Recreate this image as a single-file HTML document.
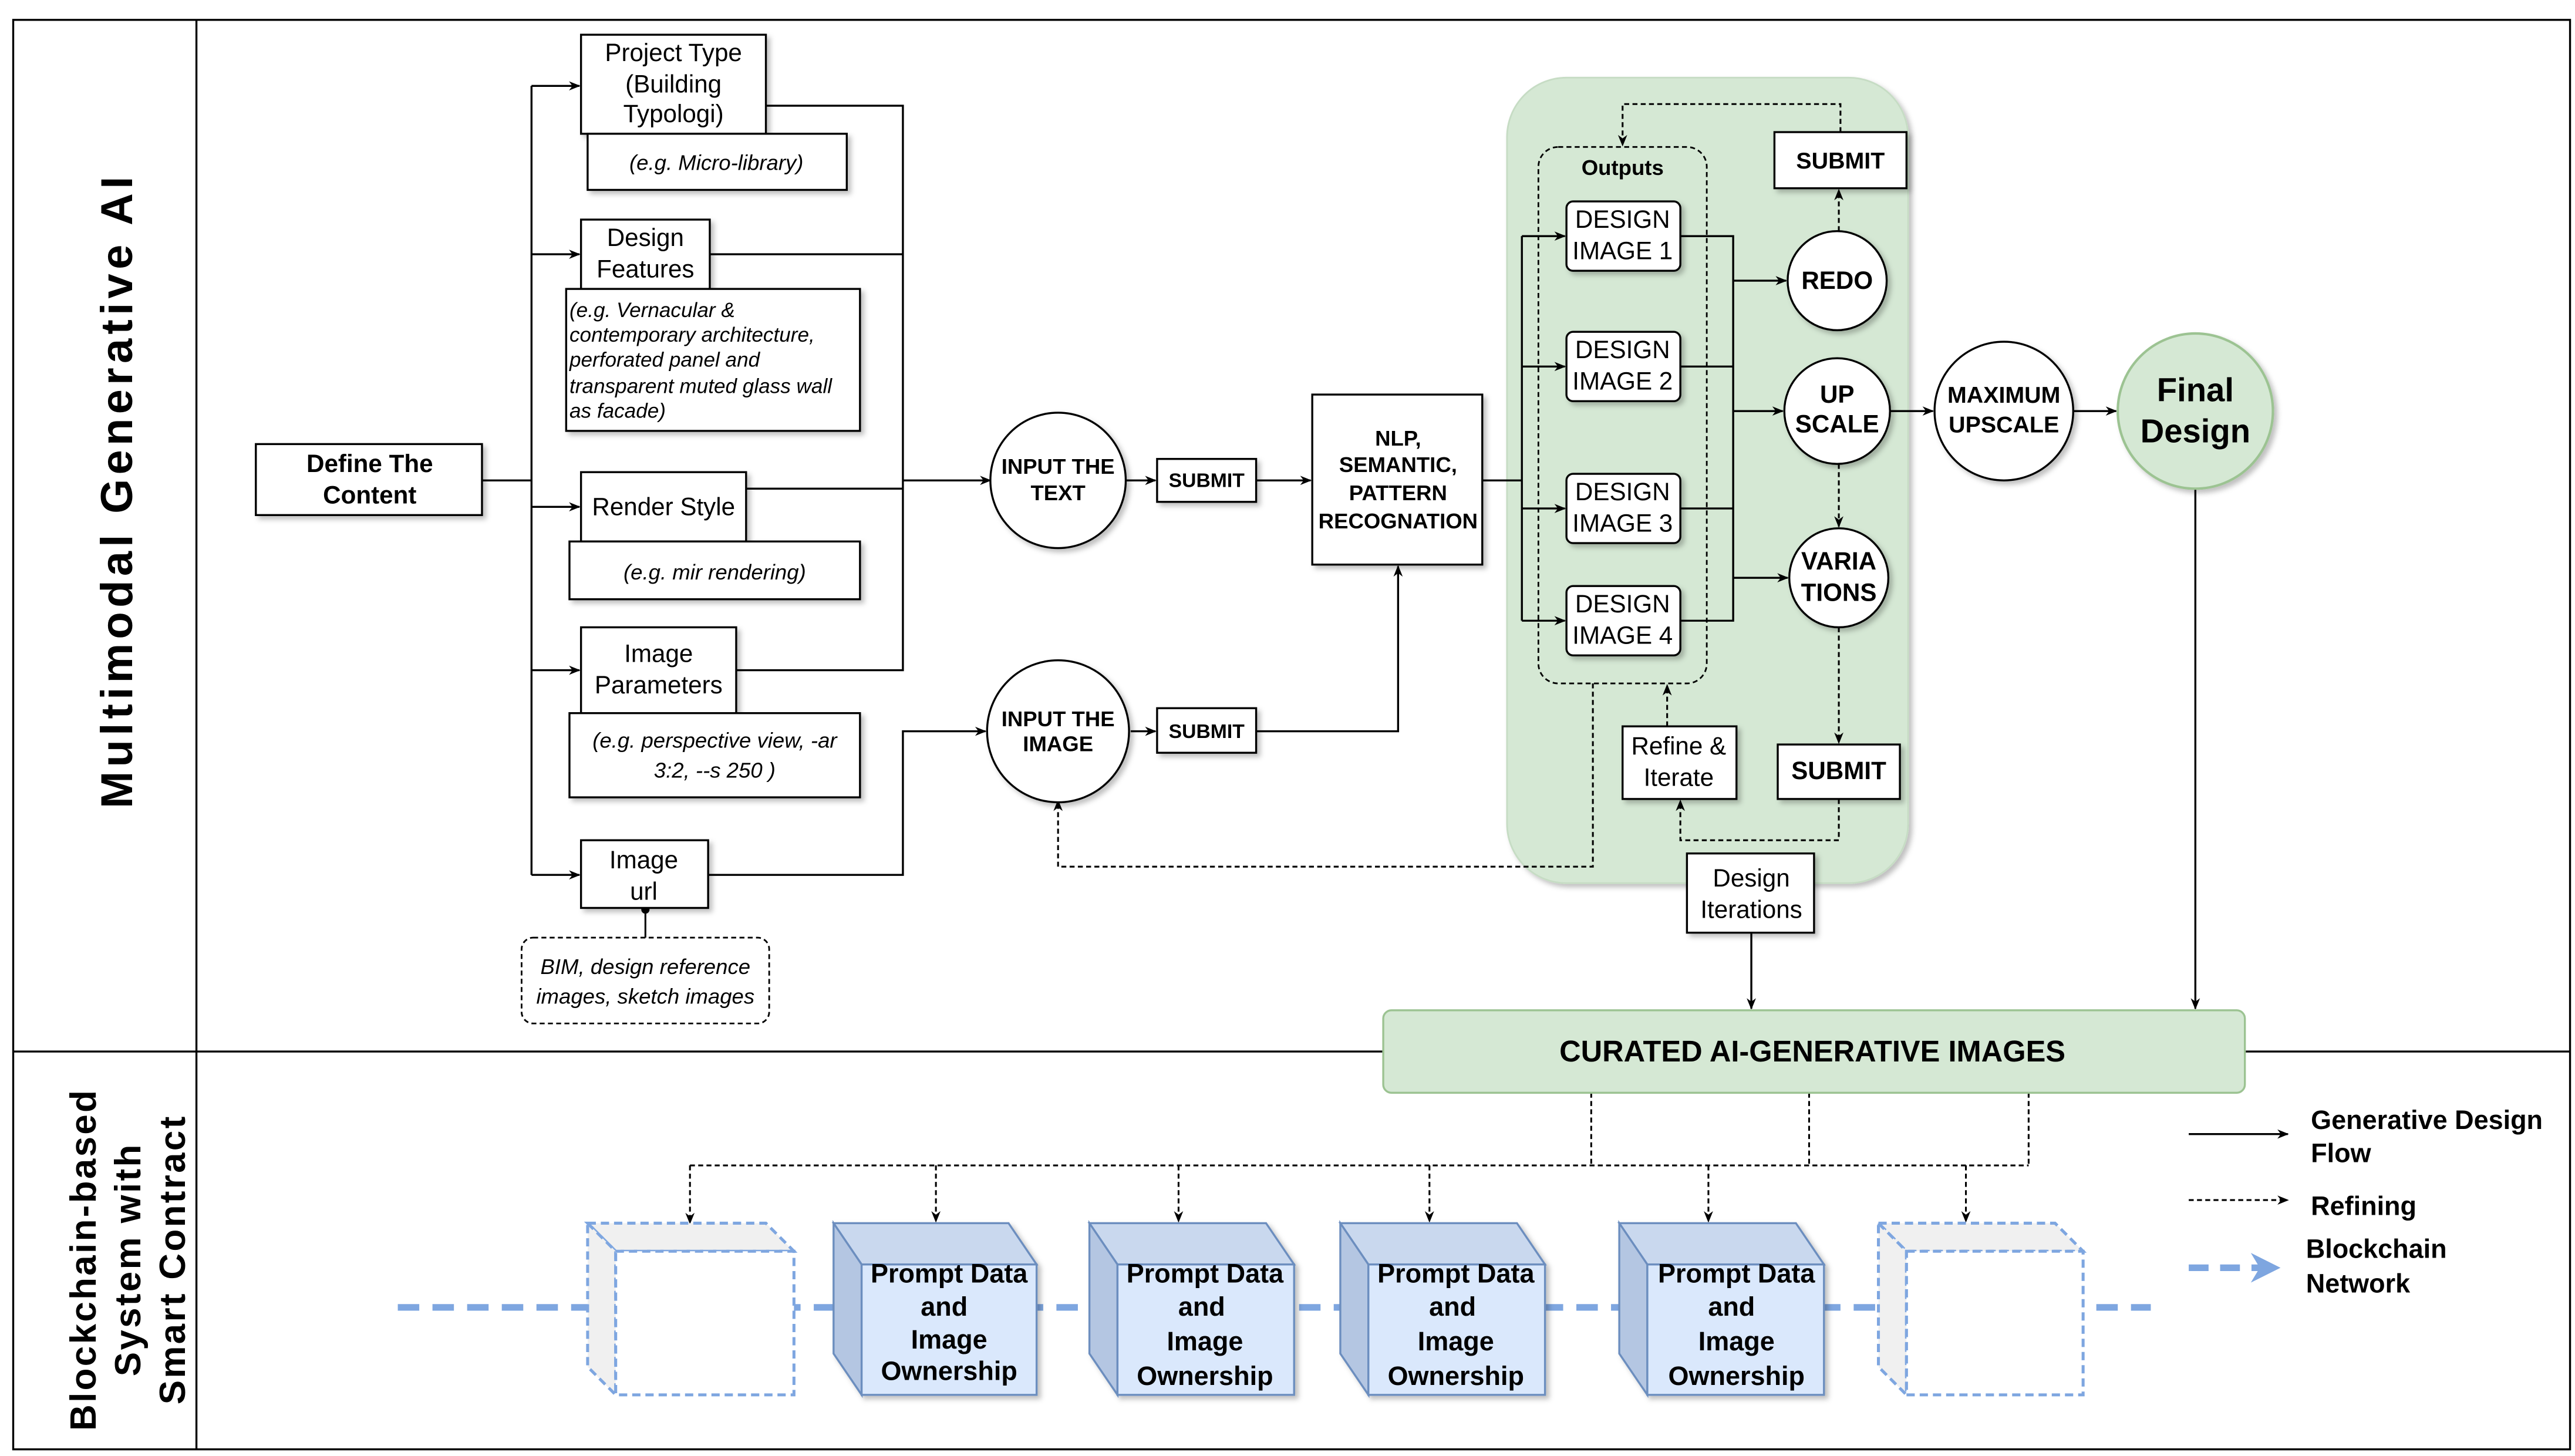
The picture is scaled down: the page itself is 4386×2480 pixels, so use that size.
<!DOCTYPE html>
<html><head><meta charset="utf-8"><style>
html,body{margin:0;padding:0;background:#fff}
svg{display:block}
text{font-family:"Liberation Sans",Arial,sans-serif;fill:#000}
.b{font-weight:bold}
.i{font-style:italic}
</style></head><body>
<svg width="4386" height="2480" viewBox="0 0 1560 882" xmlns="http://www.w3.org/2000/svg">
<defs>
<marker id="a" viewBox="0 0 10 10" refX="9" refY="5" markerWidth="7" markerHeight="7" orient="auto-start-reverse" markerUnits="userSpaceOnUse"><path d="M0,1 L10,5 L0,9 L3,5 z" fill="#000"/></marker>
<marker id="ab" viewBox="0 0 10 10" refX="8" refY="5" markerWidth="18" markerHeight="18" orient="auto" markerUnits="userSpaceOnUse"><path d="M0,0 L10,5 L0,10 L3,5 z" fill="#7ea6e0"/></marker>
<filter id="sh" x="-10%" y="-10%" width="130%" height="130%"><feDropShadow dx="2" dy="2" stdDeviation="1.5" flood-color="#000" flood-opacity="0.25"/></filter>
</defs>
<rect width="1560" height="882" fill="#fff"/>
<rect x="8" y="12" width="1549" height="866" fill="none" stroke="#000" stroke-width="1.2"/>
<line x1="119" y1="12" x2="119" y2="878" stroke="#000" stroke-width="1.2"/>
<line x1="8" y1="637" x2="1557" y2="637" stroke="#000" stroke-width="1.2"/>
<text class="b" font-size="27" transform="translate(80,297) rotate(-90)" text-anchor="middle" letter-spacing="2.6">Multimodal Generative AI</text>
<g transform="translate(58,763) rotate(-90)" text-anchor="middle" class="b" font-size="22" letter-spacing="1.2">
<text x="0" y="0" class="b">Blockchain-based</text>
<text x="0" y="27" class="b">System with</text>
<text x="0" y="54" class="b">Smart Contract</text>
</g>

<rect x="913" y="47" width="243" height="488" rx="36" fill="#d5e8d4" stroke="#c6dcc4" filter="url(#sh)"/>

<g stroke="#000" stroke-width="1.2" fill="none">
<line x1="292" y1="291" x2="322" y2="291"/>
<line x1="322" y1="52" x2="322" y2="530"/>
<line x1="322" y1="52" x2="351" y2="52" marker-end="url(#a)"/>
<line x1="322" y1="154" x2="351" y2="154" marker-end="url(#a)"/>
<line x1="322" y1="307" x2="351" y2="307" marker-end="url(#a)"/>
<line x1="322" y1="406" x2="351" y2="406" marker-end="url(#a)"/>
<line x1="322" y1="530" x2="351" y2="530" marker-end="url(#a)"/>
<polyline points="464,64 547,64 547,406 446,406"/>
<line x1="430" y1="154" x2="547" y2="154"/>
<line x1="452" y1="296" x2="547" y2="296"/>
<line x1="547" y1="291" x2="600" y2="291" marker-end="url(#a)"/>
<polyline points="429,530 547,530 547,443 597,443" marker-end="url(#a)"/>
<line x1="682" y1="291" x2="700" y2="291" marker-end="url(#a)"/>
<line x1="685" y1="443" x2="700" y2="443" marker-end="url(#a)"/>
<line x1="761" y1="291" x2="794" y2="291" marker-end="url(#a)"/>
<polyline points="761,443 847,443 847,343" marker-end="url(#a)"/>
<line x1="898" y1="291" x2="922" y2="291"/>
<line x1="922" y1="143" x2="922" y2="376"/>
<line x1="922" y1="143" x2="948" y2="143" marker-end="url(#a)"/>
<line x1="922" y1="222" x2="948" y2="222" marker-end="url(#a)"/>
<line x1="922" y1="308" x2="948" y2="308" marker-end="url(#a)"/>
<line x1="922" y1="376" x2="948" y2="376" marker-end="url(#a)"/>
<polyline points="1018,143 1050,143 1050,376 1018,376"/>
<line x1="1018" y1="222" x2="1050" y2="222"/>
<line x1="1018" y1="308" x2="1050" y2="308"/>
<line x1="1050" y1="170" x2="1082" y2="170" marker-end="url(#a)"/>
<line x1="1050" y1="249" x2="1080" y2="249" marker-end="url(#a)"/>
<line x1="1050" y1="350" x2="1083" y2="350" marker-end="url(#a)"/>
<line x1="1145" y1="249" x2="1171" y2="249" marker-end="url(#a)"/>
<line x1="1256" y1="249" x2="1282" y2="249" marker-end="url(#a)"/>
<line x1="1330" y1="296" x2="1330" y2="611" marker-end="url(#a)"/>
<line x1="1061" y1="565" x2="1061" y2="611" marker-end="url(#a)"/>
<line x1="1326" y1="687" x2="1386" y2="687" marker-end="url(#a)"/>
</g>

<g stroke="#000" stroke-width="1.1" fill="none" stroke-dasharray="3,2">
<line x1="1114" y1="140" x2="1114" y2="115" marker-end="url(#a)"/>
<polyline points="1115,80 1115,63 983,63 983,88" marker-end="url(#a)"/>
<line x1="1114" y1="281" x2="1114" y2="319" marker-end="url(#a)"/>
<line x1="1114" y1="380" x2="1114" y2="450" marker-end="url(#a)"/>
<polyline points="1114,484 1114,509 1018,509 1018,485" marker-end="url(#a)"/>
<line x1="1010" y1="440" x2="1010" y2="415" marker-end="url(#a)"/>
<polyline points="965,414 965,525 641,525 641,485" marker-end="url(#a)"/>
<line x1="391" y1="551" x2="391" y2="568" stroke-dasharray="none"/>
<line x1="964" y1="662" x2="964" y2="706"/>
<line x1="1096" y1="662" x2="1096" y2="706"/>
<line x1="1229" y1="662" x2="1229" y2="706"/>
<line x1="418" y1="706" x2="1229" y2="706"/>
<line x1="418" y1="706" x2="418" y2="741" marker-end="url(#a)"/>
<line x1="567" y1="706" x2="567" y2="740" marker-end="url(#a)"/>
<line x1="714" y1="706" x2="714" y2="740" marker-end="url(#a)"/>
<line x1="866" y1="706" x2="866" y2="740" marker-end="url(#a)"/>
<line x1="1035" y1="706" x2="1035" y2="740" marker-end="url(#a)"/>
<line x1="1191" y1="706" x2="1191" y2="740" marker-end="url(#a)"/>
<line x1="1326" y1="727" x2="1386" y2="727" marker-end="url(#a)"/>
</g>
<circle cx="391" cy="551" r="2.5" fill="#000"/>

<rect x="932" y="89" width="102" height="325" rx="12" fill="none" stroke="#000" stroke-width="1" stroke-dasharray="3,2"/>
<text x="983" y="106" class="b" font-size="13" text-anchor="middle">Outputs</text>

<g fill="#fff" stroke="#000" stroke-width="1.2" filter="url(#sh)">
<rect x="155" y="269" width="137" height="43"/>
<rect x="352" y="21" width="112" height="60"/>
<rect x="356" y="81" width="157" height="34"/>
<rect x="352" y="133" width="78" height="42"/>
<rect x="343" y="175" width="178" height="86"/>
<rect x="352" y="286" width="100" height="42"/>
<rect x="345" y="328" width="176" height="35"/>
<rect x="352" y="380" width="94" height="52"/>
<rect x="345" y="432" width="176" height="51"/>
<rect x="352" y="509" width="77" height="41"/>
<rect x="701" y="278" width="60" height="26"/>
<rect x="701" y="429" width="60" height="27"/>
<rect x="795" y="239" width="103" height="103"/>
<rect x="949" y="122" width="69" height="42" rx="4"/>
<rect x="949" y="201" width="69" height="42" rx="4"/>
<rect x="949" y="287" width="69" height="42" rx="4"/>
<rect x="949" y="355" width="69" height="42" rx="4"/>
<rect x="1075" y="80" width="80" height="34"/>
<rect x="1077" y="451" width="74" height="33"/>
<rect x="983" y="440" width="69" height="44"/>
<rect x="1022" y="517" width="77" height="48"/>
<circle cx="641" cy="291" r="41"/>
<circle cx="641" cy="443" r="43"/>
<circle cx="1113" cy="170" r="30"/>
<circle cx="1113" cy="249" r="32"/>
<circle cx="1114" cy="350" r="30"/>
<circle cx="1214" cy="249" r="42"/>
</g>
<rect x="316" y="568" width="150" height="52" rx="7" fill="#fff" stroke="#000" stroke-width="1" stroke-dasharray="3,2"/>
<circle cx="1330" cy="249" r="47" fill="#d5e8d4" stroke="#9cc392" stroke-width="1.5" filter="url(#sh)"/>
<rect x="838" y="612" width="522" height="50" rx="5" fill="#d5e8d4" stroke="#9cc392" stroke-width="1.2"/>

<g font-size="15" text-anchor="middle">
<text x="224" y="286" class="b">Define The</text>
<text x="224" y="305" class="b">Content</text>
<text x="408" y="37">Project Type</text>
<text x="408" y="56">(Building</text>
<text x="408" y="74">Typologi)</text>
<text x="391" y="149">Design</text>
<text x="391" y="168">Features</text>
<text x="402" y="312">Render Style</text>
<text x="399" y="401">Image</text>
<text x="399" y="420">Parameters</text>
<text x="390" y="526">Image</text>
<text x="390" y="545">url</text>
<text x="983" y="138">DESIGN</text>
<text x="983" y="157">IMAGE 1</text>
<text x="983" y="217">DESIGN</text>
<text x="983" y="236">IMAGE 2</text>
<text x="983" y="303">DESIGN</text>
<text x="983" y="322">IMAGE 3</text>
<text x="983" y="371">DESIGN</text>
<text x="983" y="390">IMAGE 4</text>
<text x="1017" y="457">Refine &amp;</text>
<text x="1017" y="476">Iterate</text>
<text x="1061" y="537">Design</text>
<text x="1061" y="556">Iterations</text>
</g>
<g font-size="13" text-anchor="middle" class="i">
<text x="434" y="103" class="i">(e.g. Micro-library)</text>
<text x="433" y="351" class="i">(e.g. mir rendering)</text>
<text x="433" y="453" class="i">(e.g. perspective view, -ar</text>
<text x="433" y="471" class="i">3:2, --s 250 )</text>
<text x="391" y="590" class="i">BIM, design reference</text>
<text x="391" y="608" class="i">images, sketch images</text>
</g>
<g font-size="12.5" class="i">
<text x="345" y="192" class="i">(e.g. Vernacular &amp;</text>
<text x="345" y="207" class="i">contemporary architecture,</text>
<text x="345" y="222" class="i">perforated panel and</text>
<text x="345" y="238" class="i">transparent muted glass wall</text>
<text x="345" y="253" class="i">as facade)</text>
</g>
<g font-size="13" text-anchor="middle" class="b">
<text x="641" y="287" class="b">INPUT THE</text>
<text x="641" y="303" class="b">TEXT</text>
<text x="641" y="440" class="b">INPUT THE</text>
<text x="641" y="455" class="b">IMAGE</text>
<text x="731" y="295" class="b" font-size="12">SUBMIT</text>
<text x="731" y="447" class="b" font-size="12">SUBMIT</text>
<text x="847" y="270" class="b">NLP,</text>
<text x="847" y="286" class="b">SEMANTIC,</text>
<text x="847" y="303" class="b">PATTERN</text>
<text x="847" y="320" class="b">RECOGNATION</text>
<text x="1115" y="102" class="b" font-size="14">SUBMIT</text>
<text x="1114" y="472" class="b" font-size="15">SUBMIT</text>
<text x="1113" y="175" class="b" font-size="15">REDO</text>
<text x="1113" y="244" class="b" font-size="15">UP</text>
<text x="1113" y="262" class="b" font-size="15">SCALE</text>
<text x="1114" y="345" class="b" font-size="15">VARIA</text>
<text x="1114" y="364" class="b" font-size="15">TIONS</text>
<text x="1214" y="244" class="b" font-size="14">MAXIMUM</text>
<text x="1214" y="262" class="b" font-size="14">UPSCALE</text>
<text x="1330" y="243" class="b" font-size="20">Final</text>
<text x="1330" y="268" class="b" font-size="20">Design</text>
<text x="1098" y="643" class="b" font-size="18">CURATED AI-GENERATIVE IMAGES</text>
</g>

<line x1="241" y1="792" x2="1303" y2="792" stroke="#7ea6e0" stroke-width="4" stroke-dasharray="13,8"/>

<g stroke="#7ea6e0" stroke-width="1.8" stroke-dasharray="5,3" fill="#f0f0f0">
<path d="M356,741 L464,741 L481,758 L373,758 Z"/>
<path d="M356,741 L373,758 L373,845 L356,828 Z"/>
<rect x="373" y="758" width="108" height="87" fill="#fff"/>
<path d="M1138,741 L1245,741 L1262,758 L1155,758 Z"/>
<path d="M1138,741 L1155,758 L1155,845 L1138,828 Z"/>
<rect x="1155" y="758" width="107" height="87" fill="#fff"/>
</g>
<g stroke="#6c8ebf" stroke-width="1.2" filter="url(#sh)">
<g>
<path d="M505,741 L611,741 L628,766 L522,766 Z" fill="#c9d8ee"/>
<path d="M505,741 L522,766 L522,845 L505,820 Z" fill="#b4c6e2"/>
<rect x="522" y="766" width="106" height="79" fill="#dae8fc"/>
</g>
<g>
<path d="M660,741 L767,741 L784,766 L677,766 Z" fill="#c9d8ee"/>
<path d="M660,741 L677,766 L677,845 L660,820 Z" fill="#b4c6e2"/>
<rect x="677" y="766" width="107" height="79" fill="#dae8fc"/>
</g>
<g>
<path d="M812,741 L919,741 L936,766 L829,766 Z" fill="#c9d8ee"/>
<path d="M812,741 L829,766 L829,845 L812,820 Z" fill="#b4c6e2"/>
<rect x="829" y="766" width="107" height="79" fill="#dae8fc"/>
</g>
<g>
<path d="M981,741 L1088,741 L1105,766 L998,766 Z" fill="#c9d8ee"/>
<path d="M981,741 L998,766 L998,845 L981,820 Z" fill="#b4c6e2"/>
<rect x="998" y="766" width="107" height="79" fill="#dae8fc"/>
</g>
</g>
<g font-size="16" text-anchor="middle" class="b">
<text x="575" y="777" class="b">Prompt Data</text><text x="572" y="797" class="b">and</text><text x="575" y="817" class="b">Image</text><text x="575" y="836" class="b">Ownership</text>
<text x="730" y="777" class="b">Prompt Data</text><text x="728" y="797" class="b">and</text><text x="730" y="818" class="b">Image</text><text x="730" y="839" class="b">Ownership</text>
<text x="882" y="777" class="b">Prompt Data</text><text x="880" y="797" class="b">and</text><text x="882" y="818" class="b">Image</text><text x="882" y="839" class="b">Ownership</text>
<text x="1052" y="777" class="b">Prompt Data</text><text x="1049" y="797" class="b">and</text><text x="1052" y="818" class="b">Image</text><text x="1052" y="839" class="b">Ownership</text>
</g>

<line x1="1326" y1="768" x2="1378" y2="768" stroke="#7ea6e0" stroke-width="4" stroke-dasharray="12,7" marker-end="url(#ab)"/>
<g font-size="16" class="b">
<text x="1400" y="684" class="b">Generative Design</text>
<text x="1400" y="704" class="b">Flow</text>
<text x="1400" y="736" class="b">Refining</text>
<text x="1397" y="762" class="b">Blockchain</text>
<text x="1397" y="783" class="b">Network</text>
</g>
</svg>
</body></html>
